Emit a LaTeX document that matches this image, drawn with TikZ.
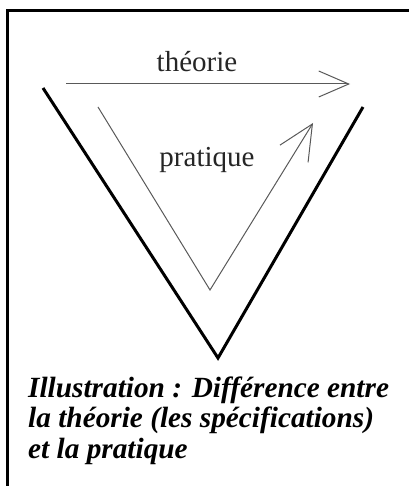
\documentclass[tikz,border=0pt]{standalone}
\usepackage{fontspec}
\setmainfont{Liberation Serif}
\usetikzlibrary{arrows.meta,positioning}

\begin{document}
\begin{tikzpicture}[x=1pt,y=-1pt,
    wordlabel/.style={font=\fontsize{29}{34}\selectfont,text=black!85,inner sep=0pt,anchor=base},
    thinline/.style={line width=1pt,draw=black!65,line join=miter},
    thickline/.style={line width=3pt,draw=black,line join=miter},
    barb/.style={-{Straight Barb[length=#1,width=26pt,line width=1pt]}}]
  \useasboundingbox (0,0) rectangle (409,486);
  % frame
  \draw[line width=3pt] (7.5,486) -- (7.5,10.5) -- (409,10.5);
  % the two V's
  \coordinate (outL) at (43,88);   \coordinate (outB) at (218,358);  \coordinate (outR) at (363,107);
  \coordinate (inL) at (98,107);   \coordinate (inB) at (210,290);   \coordinate (inR) at (313,123);
  \draw[thickline] (outL) -- (outB) -- (outR);
  \draw[thinline,-{Straight Barb[length=35pt,width=33pt,line width=1pt]}] (inL) -- (inB) -- (inR);
  % theory arrow
  \coordinate (thA) at (66,84);  \coordinate (thB) at (350,84);
  \draw[thinline,barb=30pt] (thA) -- (thB);
  \node[wordlabel] (theorie) at (197,72) {théorie};
  \node[wordlabel] (pratique) at (207,167) {pratique};
  % caption (base = last line)
  \node[anchor=base west,align=left,inner sep=0pt,
        font=\fontsize{29.3}{30.5}\selectfont\bfseries\itshape] (caption) at (28,458)
        {Illustration : Différence entre\\la théorie (les spécifications)\\et la pratique};
\end{tikzpicture}
\end{document}
